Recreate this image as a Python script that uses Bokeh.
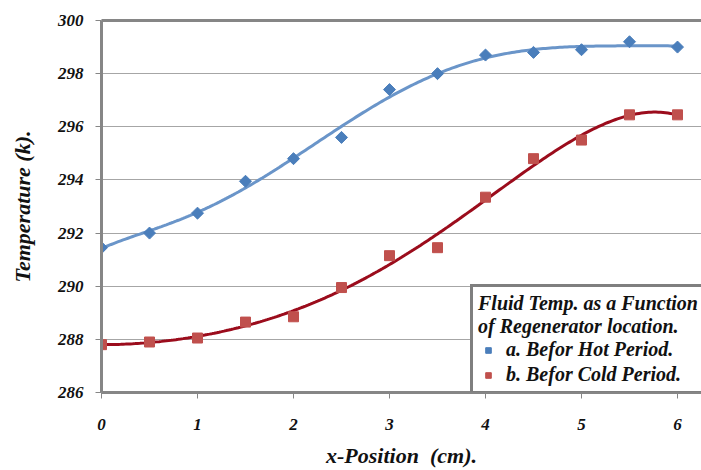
import numpy as np
from bokeh.plotting import figure
from bokeh.models import Legend, LegendItem, LinearAxis, FixedTicker, Range1d
from bokeh.embed import file_html
from bokeh.resources import INLINE

# Measured fluid temperature along the regenerator
x_pos = [0, 0.5, 1, 1.5, 2, 2.5, 3, 3.5, 4, 4.5, 5, 5.5, 6]
hot_temp = [291.45, 292.0, 292.75, 293.95, 294.8, 295.6, 297.4, 298.0, 298.7, 298.8, 298.9, 299.2, 299.0]
cold_temp = [287.8, 287.9, 288.05, 288.65, 288.85, 289.95, 291.15, 291.45, 293.35, 294.8, 295.5, 296.45, 296.45]

x_ticks = [0, 1, 2, 3, 4, 5, 6]
y_ticks = [286, 288, 290, 292, 294, 296, 298, 300]

hot_label = "a. Befor Hot Period."
cold_label = "b. Befor Cold Period."
legend_title = "Fluid Temp. as a Function\nof Regenerator location."

FONT = "Liberation Serif"
AXIS_GREY = "#868686"
TEXT = "#111111"

p = figure(width=701, height=470, output_backend="svg", toolbar_location=None,
           x_range=Range1d(0, 6.25), y_range=Range1d(286, 300),
           min_border_left=101, min_border_right=0, min_border_top=20,
           min_border_bottom=77, outline_line_color=None,
           background_fill_color="white", border_fill_color="white")

# polynomial trend lines through each series
xs = np.linspace(0, 6, 241)
hot_fit = np.polyval(np.polyfit(x_pos, hot_temp, 6), xs)
cold_fit = np.polyval(np.polyfit(x_pos, cold_temp, 5), xs)

p.line(xs, hot_fit, line_color="#6a95c9", line_width=3)
p.line(xs, cold_fit, line_color="#9b0c1c", line_width=3)

hot_pts = p.scatter(x_pos, hot_temp, marker="square", angle=np.pi / 4, size=8.5,
                    fill_color="#4a7ebb", line_color="#4a7ebb")
cold_pts = p.scatter(x_pos, cold_temp, marker="square", size=10,
                     fill_color="#c0504d", line_color="#c0504d")

# axes
xaxis = p.xaxis[0]
yaxis = p.yaxis[0]
for ax in (xaxis, yaxis):
    ax.axis_line_color = AXIS_GREY
    ax.axis_line_width = 3
    ax.major_tick_line_color = AXIS_GREY
    ax.major_tick_line_width = 1
    ax.major_tick_out = 6
    ax.major_tick_in = 0
    ax.minor_tick_out = 0
    ax.minor_tick_in = 0
    ax.major_label_text_font = FONT
    ax.major_label_text_font_style = "bold italic"
    ax.major_label_text_font_size = "17px"
    ax.major_label_text_color = TEXT
    ax.axis_label_text_font = FONT
    ax.axis_label_text_font_style = "bold italic"
    ax.axis_label_text_font_size = "22px"
    ax.axis_label_text_color = TEXT

xaxis.ticker = FixedTicker(ticks=x_ticks)
yaxis.ticker = FixedTicker(ticks=y_ticks)
xaxis.major_label_standoff = 20
yaxis.major_label_standoff = 12
xaxis.axis_label = "x-Position\u00a0 (cm)."
yaxis.axis_label = "Temperature (k)."
xaxis.axis_label_standoff = 10
yaxis.axis_label_standoff = 20

top_axis = LinearAxis(ticker=FixedTicker(ticks=[]), axis_line_color=AXIS_GREY,
                      axis_line_width=3, major_tick_out=0, minor_tick_out=0)
p.add_layout(top_axis, "above")

p.xgrid.visible = False
p.ygrid.ticker = FixedTicker(ticks=y_ticks)
p.ygrid.grid_line_color = "#a6a6a6"
p.ygrid.grid_line_width = 1

legend = Legend(items=[LegendItem(label=hot_label, renderers=[hot_pts]),
                       LegendItem(label=cold_label, renderers=[cold_pts])],
                location=(369, -2), title=legend_title,
                title_text_font=FONT, title_text_font_style="bold italic",
                title_text_font_size="20px", title_text_color=TEXT,
                title_standoff=0,
                label_text_font=FONT, label_text_font_style="bold italic",
                label_text_font_size="20px", label_text_color=TEXT,
                label_height=22, glyph_width=20, glyph_height=14,
                label_standoff=8, spacing=2, padding=5, margin=0,
                border_line_color="black", border_line_width=3,
                background_fill_color="white", background_fill_alpha=1.0)
p.add_layout(legend, "center")

open("out.html", "w").write(file_html(p, INLINE))
